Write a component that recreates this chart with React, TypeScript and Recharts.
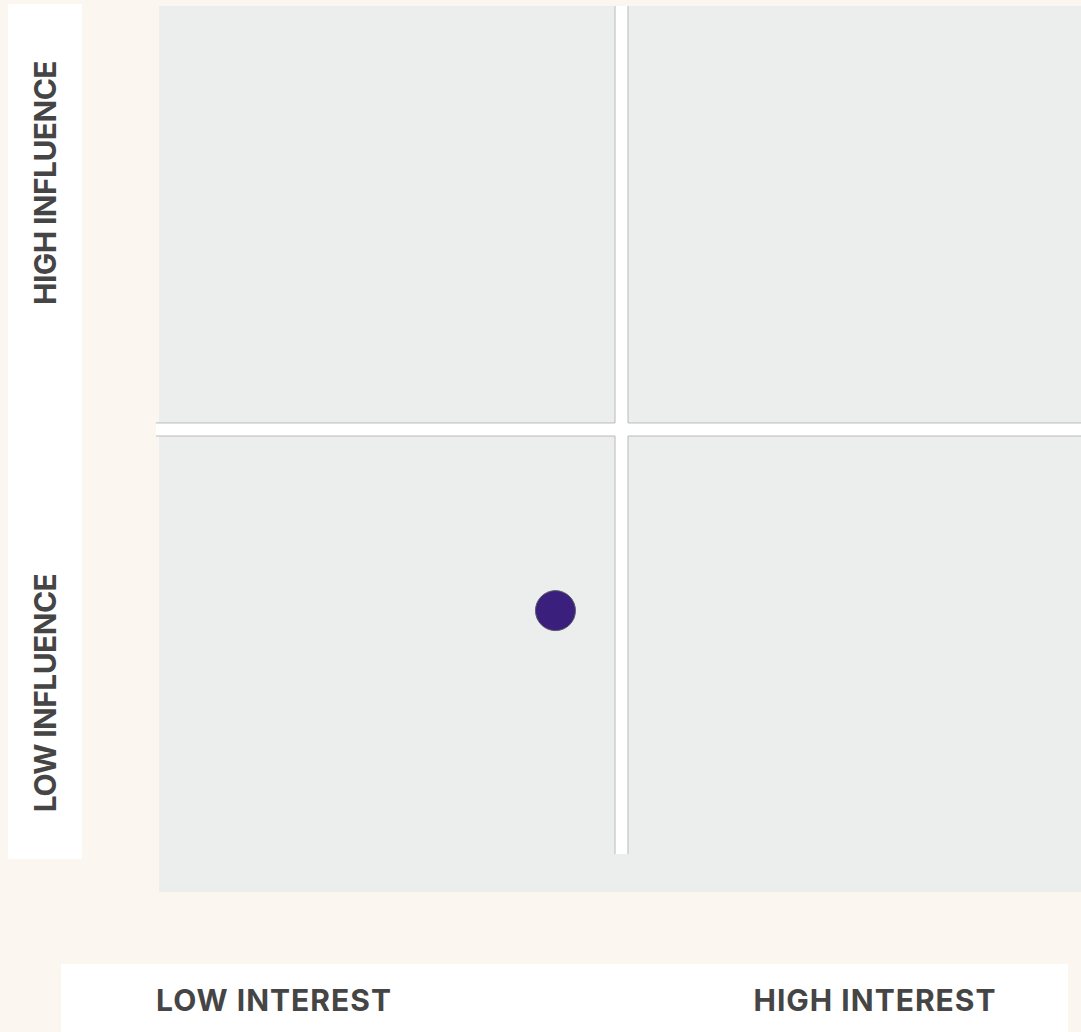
import React from 'react';
import { ScatterChart, Scatter, XAxis, YAxis, ReferenceArea, ReferenceLine } from 'recharts';

// stakeholder points (interest, influence) on a 0-100 grid
const stakeholders = [{ interest: 43, influence: 28.7 }];

const interestLabels = ['LOW INTEREST', 'HIGH INTEREST'];
const influenceLabels = ['HIGH INFLUENCE', 'LOW INFLUENCE'];

// divider bands between the quadrants, in data units
const vBand = [49.46, 50.87];
const hBand = [49.29, 50.83];
const bandStart = -0.33;

const CREAM = '#fbf6ef';
const CELL = '#eceeed';
const EDGE = '#b9b9b9';
const TEXT = '#454545';
const DOT = '#3a1f7c';

const labelFont: React.CSSProperties = {
  fontFamily: 'Inter, "Open Sans", sans-serif',
  fontWeight: 700,
  fontSize: 30,
  color: TEXT,
  whiteSpace: 'nowrap',
};

const Dot: React.FC<any> = ({ cx, cy }) => (
  <circle cx={cx} cy={cy} r={20} fill={DOT} stroke="#5a5a6a" strokeWidth={1} />
);

export default function App() {
  return (
    <div style={{ position: 'absolute', left: 0, top: 0, width: 1081, height: 1032, background: CREAM, overflow: 'hidden' }}>
      {/* left influence panel */}
      <div style={{ position: 'absolute', left: 8, top: 4, width: 74, height: 855, background: '#fff' }}>
        {influenceLabels.map((t, i) => (
          <div
            key={t}
            style={{
              ...labelFont,
              letterSpacing: -0.6,
              position: 'absolute',
              left: 37,
              top: i === 0 ? 179 : 689,
              transform: 'translate(-50%, -50%) rotate(-90deg)',
            }}
          >
            {t}
          </div>
        ))}
      </div>

      {/* bottom interest panel */}
      <div style={{ position: 'absolute', left: 61, top: 964, width: 1007, height: 68, background: '#fff' }}>
        {interestLabels.map((t, i) => (
          <div
            key={t}
            style={{
              ...labelFont,
              letterSpacing: 1,
              position: 'absolute',
              left: i === 0 ? 213 : 814,
              top: 36,
              transform: 'translate(-50%, -50%)',
            }}
          >
            {t}
          </div>
        ))}
      </div>

      {/* grey plot field */}
      <div style={{ position: 'absolute', left: 159, top: 6, width: 922, height: 886, background: CELL }} />

      <div style={{ position: 'absolute', left: 0, top: 0 }}>
        <ScatterChart width={1081} height={1032} margin={{ top: 6, right: 0, left: 159, bottom: 178 }}>
          <XAxis type="number" dataKey="interest" domain={[0, 100]} hide />
          <YAxis type="number" dataKey="influence" domain={[0, 100]} hide />

          <ReferenceArea x1={vBand[0]} x2={vBand[1]} y1={0} y2={100} fill="#fff" fillOpacity={1} stroke="none" />
          <ReferenceArea x1={bandStart} x2={100} y1={hBand[0]} y2={hBand[1]} fill="#fff" fillOpacity={1} stroke="none" ifOverflow="visible" />

          {vBand.map((x) => (
            <React.Fragment key={'v' + x}>
              <ReferenceLine segment={[{ x, y: 0 }, { x, y: hBand[0] }]} stroke={EDGE} />
              <ReferenceLine segment={[{ x, y: hBand[1] }, { x, y: 100 }]} stroke={EDGE} />
            </React.Fragment>
          ))}
          {hBand.map((y) => (
            <React.Fragment key={'h' + y}>
              <ReferenceLine segment={[{ x: bandStart, y }, { x: vBand[0], y }]} stroke={EDGE} ifOverflow="visible" />
              <ReferenceLine segment={[{ x: vBand[1], y }, { x: 100, y }]} stroke={EDGE} />
            </React.Fragment>
          ))}

          <Scatter data={stakeholders} shape={<Dot />} isAnimationActive={false} />
        </ScatterChart>
      </div>
    </div>
  );
}
